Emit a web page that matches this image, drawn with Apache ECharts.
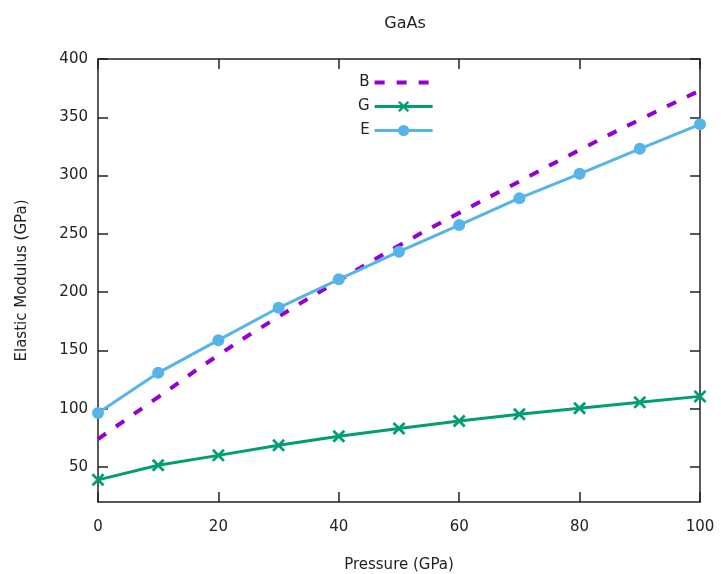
<!DOCTYPE html>
<html>
<head>
<meta charset="utf-8">
<script src="https://cdn.jsdelivr.net/npm/echarts@6/dist/echarts.min.js"></script>
<style>
  html, body { margin: 0; padding: 0; background: #fff; }
  #main { width: 721px; height: 574px; }
</style>
</head>
<body>
<div id="main"></div>
<script>
var pressure = [0, 10, 20, 30, 40, 50, 60, 70, 80, 90, 100];
var bulkB = [74, 110, 146, 179, 210, 240, 268, 295, 322, 348, 373];
var shearG = [39, 51.5, 60, 68.6, 76.4, 83, 89.5, 95.3, 100.4, 105.5, 110.6];
var youngE = [96.4, 130.8, 158.8, 186.6, 211, 234.7, 257.6, 280.6, 301.5, 323, 344];
var yTicks = [50, 100, 150, 200, 250, 300, 350, 400];

function pairs(ys) {
  return pressure.map(function (p, i) { return [p, ys[i]]; });
}

var font = 'DejaVu Sans';
var crossPath = 'path://M0,1.5L1.5,0L5,3.5L8.5,0L10,1.5L6.5,5L10,8.5L8.5,10L5,6.5L1.5,10L0,8.5L3.5,5Z';

function axisLine() {
  return { show: true, onZero: false, lineStyle: { color: '#222', width: 1.5 } };
}
function tick(custom) {
  var t = { show: true, inside: true, length: 10, lineStyle: { color: '#222', width: 1.5 } };
  if (custom) t.customValues = custom;
  return t;
}

var myChart = echarts.init(document.getElementById('main'));

var option = {
    backgroundColor: '#fff',
    animation: false,
    title: {
      text: 'GaAs',
      left: 400,
      top: 11,
      textAlign: 'center',
      textStyle: { fontFamily: font, fontSize: 16, fontWeight: 'normal', color: '#222' }
    },
    legend: {
      orient: 'vertical',
      left: 353,
      top: 70,
      align: 'right',
      itemWidth: 58,
      itemHeight: 14,
      itemGap: 9,
      lineStyle: { width: 3 },
      textStyle: { fontFamily: font, fontSize: 15, color: '#222' },
      data: [
        { name: 'B', itemStyle: { opacity: 0 }, lineStyle: { width: 4 } },
        'G',
        'E'
      ]
    },
    grid: { left: 98, right: 21, top: 59, bottom: 72, outerBoundsMode: 'none' },
    xAxis: [
      {
        type: 'value',
        min: 0, max: 100, interval: 20,
        name: 'Pressure (GPa)',
        nameLocation: 'middle',
        nameGap: 56,
        nameTextStyle: { fontFamily: font, fontSize: 15, color: '#222' },
        axisLine: axisLine(),
        axisTick: tick(),
        axisLabel: { fontFamily: font, fontSize: 15, color: '#222', margin: 18 },
        splitLine: { show: false }
      },
      {
        type: 'value', position: 'top',
        min: 0, max: 100, interval: 20,
        axisLine: axisLine(), axisTick: tick(),
        axisLabel: { show: false }, splitLine: { show: false }
      }
    ],
    yAxis: [
      {
        type: 'value',
        min: 20, max: 400,
        name: 'Elastic Modulus (GPa)',
        nameLocation: 'middle',
        nameGap: 68,
        nameTextStyle: { fontFamily: font, fontSize: 15, color: '#222' },
        axisLine: axisLine(),
        axisTick: tick(yTicks),
        axisLabel: { fontFamily: font, fontSize: 15, color: '#222', margin: 10, customValues: yTicks },
        splitLine: { show: false }
      },
      {
        type: 'value', position: 'right',
        min: 20, max: 400,
        axisLine: axisLine(),
        axisTick: tick(yTicks),
        axisLabel: { show: false, customValues: yTicks }, splitLine: { show: false }
      }
    ],
    series: [
      {
        name: 'B',
        type: 'line',
        data: pairs(bulkB),
        smooth: true,
        showSymbol: false,
        symbol: 'none',
        color: '#9400D3',
        lineStyle: { width: 4, type: [10, 12], color: '#9400D3' }
      },
      {
        name: 'G',
        type: 'line',
        data: pairs(shearG),
        symbol: crossPath,
        symbolSize: 13,
        color: '#009E73',
        lineStyle: { width: 3, color: '#009E73' },
        itemStyle: { color: '#009E73' }
      },
      {
        name: 'E',
        type: 'line',
        data: pairs(youngE),
        symbol: 'circle',
        symbolSize: 12,
        color: '#56B4E9',
        lineStyle: { width: 3, color: '#56B4E9' },
        itemStyle: { color: '#56B4E9' }
      }
    ]
  };
myChart.setOption(option);
</script>
</body>
</html>
